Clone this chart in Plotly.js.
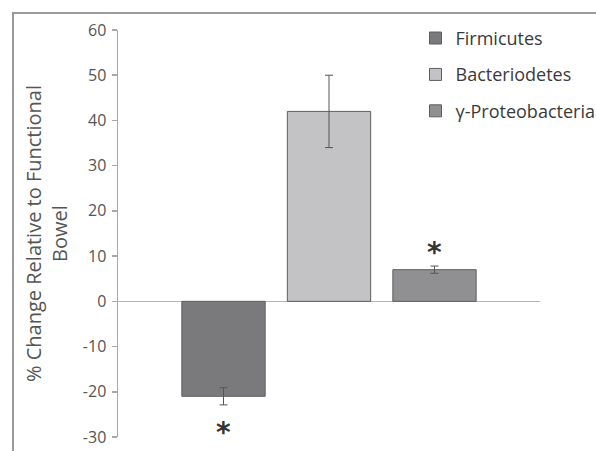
<!DOCTYPE html>
<html>
<head>
<meta charset="utf-8">
<script src="https://cdn.plot.ly/plotly-3.0.1.min.js"></script>
<style>
html,body{margin:0;padding:0;background:#fff;}
#frame{position:absolute;left:12px;top:12px;width:584px;height:439px;border-top:2px solid #9a9a9a;border-left:2px solid #9a9a9a;box-sizing:border-box;}
#chart{position:absolute;left:0;top:0;width:596px;height:451px;}
</style>
</head>
<body>
<div id="frame"></div>
<div id="chart"></div>
<script>
const seriesNames = ["Firmicutes", "Bacteriodetes", "γ-Proteobacteria"];
const seriesValues = [-21, 42, 7];
const seriesErrors = [1.9, 8, 0.8];
const seriesColors = ["#7a7a7c", "#c3c3c5", "#909092"];
const significant = [true, false, true];
const yTickVals = [-30, -20, -10, 0, 10, 20, 30, 40, 50, 60];

const FONT = "'Open Sans', sans-serif";

const traces = seriesNames.map((name, i) => ({
  type: "bar",
  name: name,
  x: [i],
  y: [seriesValues[i]],
  width: 0.79,
  legendgroup: "g" + i,
  marker: {color: seriesColors[i], line: {color: "#5e5e5e", width: 1}},
  error_y: {type: "data", array: [seriesErrors[i]], visible: true, color: "#555555", thickness: 1, width: 4},
  hoverinfo: "skip"
}));

const annotations = [];
seriesValues.forEach((v, i) => {
  if (!significant[i]) return;
  const yPos = v < 0 ? v - seriesErrors[i] - 6 : v + seriesErrors[i] + 3;
  annotations.push({
    x: i, y: yPos, xref: "x", yref: "y", text: "<b>*</b>", showarrow: false,
    font: {family: "'DejaVu Sans', sans-serif", size: 28, color: "#333333"},
    yanchor: "middle"
  });
});

const layout = {
  width: 596, height: 451,
  margin: {l: 118, r: 56, t: 30, b: 14, autoexpand: false},
  paper_bgcolor: "rgba(0,0,0,0)",
  plot_bgcolor: "rgba(0,0,0,0)",
  showlegend: true,
  barmode: "overlay",
  font: {family: FONT, color: "#595959"},
  xaxis: {range: [-1, 3], showticklabels: false, showgrid: false, zeroline: false, showline: false, ticks: "", fixedrange: true},
  yaxis: {
    range: [-30, 60],
    tickvals: yTickVals,
    ticktext: yTickVals.map(String),
    showgrid: false,
    zeroline: true, zerolinecolor: "#b5b5b5", zerolinewidth: 1.5,
    showline: true, linecolor: "#a8a8a8", linewidth: 1.5,
    ticks: "outside", ticklen: 5, tickcolor: "#a8a8a8", tickwidth: 1.5,
    ticklabelstandoff: 2,
    tickfont: {family: FONT, size: 16, color: "#555555"},
    title: {text: "% Change Relative to Functional<br>Bowel", font: {family: FONT, size: 20, color: "#555555"}, standoff: 10}
  },
  legend: {
    x: 0.705, xanchor: "left", y: 1.025, yanchor: "top",
    font: {family: FONT, size: 18, color: "#3a3a3a"},
    bgcolor: "rgba(0,0,0,0)", tracegroupgap: 10,
    traceorder: "grouped"
  },
  annotations: annotations
};

Plotly.newPlot("chart", traces, layout, {displayModeBar: false, staticPlot: true});
</script>
</body>
</html>
